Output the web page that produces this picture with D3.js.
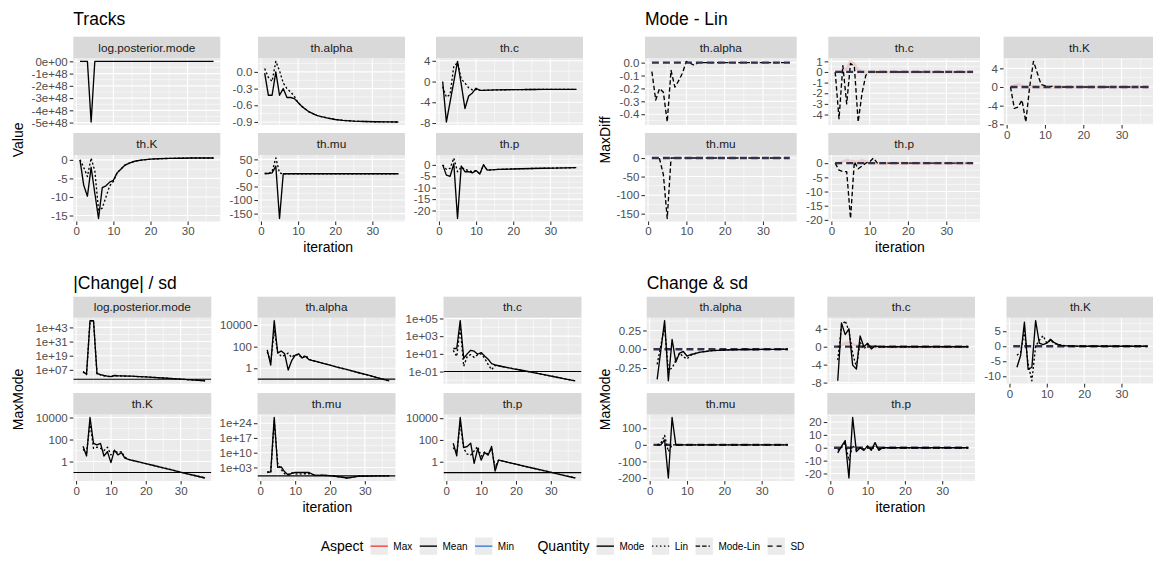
<!DOCTYPE html>
<html><head><meta charset="utf-8">
<script src="https://cdn.jsdelivr.net/npm/d3@7"></script>
<style>body{margin:0;background:#fff}svg{display:block;font-family:"Liberation Sans",Arial,Helvetica,sans-serif}</style>
</head><body><script>
// ================= DATA =================
const iterFull   = [1,2,3,4,5,6,7,8,9,10,11,12,13,14,15,16,18,20,22,25,28,31,34,37];
const iterChange = [2,3,4,5,6,7,8,9,10,11,12,13,14,15,16,18,20,22,25,28,31,34,37];
const xTickValues = [0,10,20,30];
const threshold = 0.1;

// ---- Tracks (Value) ----
const trackLogPost   = [0,0,0,-4.95e48,0,0,0,0,0,0,0,0,0,0,0,0,0,0,0,0,0,0,0,0];
const trackAlphaMode = [-0.02,-0.42,-0.42,0.0,-0.42,-0.3,-0.46,-0.46,-0.48,-0.55,-0.62,-0.67,-0.72,-0.75,-0.78,-0.8,-0.83,-0.855,-0.87,-0.885,-0.892,-0.896,-0.898,-0.9];
const trackAlphaLin  = [0.06,-0.1,-0.17,0.19,0.02,-0.2,-0.3,-0.36,-0.44,-0.55,-0.62,-0.67,-0.72,-0.75,-0.78,-0.8,-0.83,-0.855,-0.87,-0.885,-0.892,-0.896,-0.898,-0.9];
const trackCMode     = [0,-7.8,-3.9,0,3.9,-0.5,-5.2,-2.8,-2.2,-1.3,-1.7,-1.7,-1.65,-1.65,-1.6,-1.6,-1.58,-1.56,-1.55,-1.53,-1.52,-1.5,-1.5,-1.5];
const trackCLin      = [-1,-3,-2.5,3,3.6,0.5,-0.3,-1.2,-1.6,-1.5,-1.7,-1.7,-1.65,-1.65,-1.6,-1.6,-1.58,-1.56,-1.55,-1.53,-1.52,-1.5,-1.5,-1.5];
const trackKMode     = [0,-6.8,-9.8,-2,-9,-15.8,-7.5,-7,-6,-5.5,-3.5,-2.5,-1.5,-1,-0.6,-0.3,0,0.2,0.3,0.4,0.45,0.5,0.5,0.5];
const trackKLin      = [0,-2,-4.5,0.5,-3,-13.5,-13,-10,-7,-5.8,-3.5,-2.5,-1.5,-1,-0.6,-0.3,0,0.2,0.3,0.4,0.45,0.5,0.5,0.5];
const trackMuMode    = [-2,-2,0,25,-168,-3,-3,-3,-3,-3,-3,-3,-3,-3,-3,-3,-3,-3,-3,-3,-3,-3,-3,-3];
const trackMuLin     = [-2,-2,5,55,0,-3,-3,-3,-3,-3,-3,-3,-3,-3,-3,-3,-3,-3,-3,-3,-3,-3,-3,-3];
const trackPMode     = [0,-4.5,-5,0.5,-23.5,-0.5,-3,-3,-3.5,-2.5,-4,0,-2.3,-2.2,-2.1,-2,-1.9,-1.8,-1.7,-1.6,-1.5,-1.4,-1.3,-1.2];
const trackPLin      = [0,-2,-1.5,3,-3,-1,-2,-2.5,-3,-2.5,-4,0,-2.3,-2.2,-2.1,-2,-1.9,-1.8,-1.7,-1.6,-1.5,-1.4,-1.3,-1.2];

// ---- Mode - Lin (MaxDiff) ----
const mlAlpha = [-0.07,-0.29,-0.2,-0.23,-0.46,-0.06,-0.19,-0.14,-0.08,0.01,-0.005,-0.02,0,0,0,0,0,0,0,0,0,0,0,0];
const mlC     = [0,-4.4,0.6,-3,0.8,0.5,-4.7,-2,-0.3,0,0,0,0,0,0,0,0,0,0,0,0,0,0,0];
const mlCMax  = [0,0,0.1,0.3,1,0.7,0.2,0,0,0,0,0,0,0,0,0,0,0,0,0,0,0,0,0];
const mlK     = [0,-4.6,-4.3,-2.8,-7.5,0,5.5,3,0.5,0.3,0,0.2,0,0,0,0,0,0,0,0,0,0,0,0];
const mlKMax  = [0,0.3,0.5,0.2,0,0,0.2,0,0,0,0,0,0,0,0,0,0,0,0,0,0,0,0,0];
const mlMu    = [0,0,-2,-45,-163,0,0,0,0,0,0,0,0,0,0,0,0,0,0,0,0,0,0,0];
const mlP     = [0,-2.5,-3,-3,-19.5,0.5,-2,-1,0,0.5,1.8,0,0,0,0,0,0,0,0,0,0,0,0,0];
const mlPMax  = [0,0,0.5,1,0.8,0.5,0.3,1,0.5,0,0,0,0,0,0,0,0,0,0,0,0,0,0,0];
const sdZero  = [0,0,0,0,0,0,0,0,0,0,0,0,0,0,0,0,0,0,0,0,0,0,0,0];

// ---- |Change| / sd (MaxMode, log scale) ----
const cdLogPostMode = [2e5,2.5e3,5e48,5e48,8e3,1e3,160,40,16,160,100,80,63,50,40,20,10,4,1.26,0.32,0.08,0.02,0.005];
const cdLogPostLin  = [3e5,1e3,5e48,5e48,5e3,600,100,30,20,120,80,63,50,40,32,20,10,4,1.26,0.32,0.08,0.02,0.005];
const cdAlphaMode   = [50,2,2.5e4,25,40,22,0.7,5,16,22,9,12.6,6.3,5.2,4.3,2.9,1.95,1.3,0.74,0.41,0.23,0.126,0.07];
const cdAlphaLin    = [32,4,3.2e3,32,12.6,16,25,10,20,16,10,16,7,5.2,4.3,2.9,1.95,1.3,0.74,0.41,0.23,0.126,0.07];
const cdCMode       = [40,40,5.6e4,3.2,10,25,20,9,14,5.6,2.5,0.8,0.56,0.45,0.37,0.26,0.18,0.13,0.076,0.045,0.026,0.015,0.009];
const cdCLin        = [25,5,1e4,0.4,5,8,4,8,10,3.2,0.63,0.16,0.5,0.45,0.37,0.26,0.18,0.13,0.076,0.045,0.026,0.015,0.009];
const cdKMode       = [25,3.2,1e4,45,32,45,3.2,8,0.8,11,4,6.3,2,1.6,1.3,0.93,0.65,0.46,0.27,0.16,0.09,0.054,0.032];
const cdKLin        = [12.6,6.3,3.2e3,16,20,16,10,20,4,10,6.3,8,2.5,1.6,1.3,0.93,0.65,0.46,0.27,0.16,0.09,0.054,0.032];
const cdMuMode      = [4,8,5e26,1e3,2e3,8,0.25,1.6,4,4,4,4,4,0.5,0.16,0.2,0.126,0.05,0.01,0.063,0.08,0.1,0.1];
const cdMuLin       = [10,3.2,1e25,1e5,100,1,0.5,3.2,1,0.5,1,1,1,0.5,0.16,0.2,0.126,0.05,0.01,0.063,0.08,0.1,0.1];
const cdPMode       = [50,3.5,1.15e4,20,25,50,0.7,16,1.4,7,4,25,0.14,1.4,1.2,0.84,0.6,0.42,0.25,0.15,0.09,0.053,0.032];
const cdPLin        = [20,6.3,3.2e3,16,5,4,10,25,3.2,8,5,16,0.32,1.4,1.2,0.84,0.6,0.42,0.25,0.15,0.09,0.053,0.032];

// ---- Change & sd (MaxMode) ----
const csAlphaMode = [-0.4,-0.01,0.38,-0.42,0.13,-0.17,-0.05,-0.03,-0.09,-0.07,-0.06,-0.045,-0.035,-0.03,-0.022,-0.015,-0.01,-0.007,-0.004,-0.003,-0.002,-0.001,0];
const csAlphaLin  = [-0.2,0.05,0.3,-0.28,-0.25,-0.15,-0.05,-0.1,-0.13,-0.08,-0.06,-0.045,-0.035,-0.03,-0.022,-0.015,-0.01,-0.007,-0.004,-0.003,-0.002,-0.001,0];
const csCMode     = [-7.6,5.3,2.7,4,-4.1,-5,2.4,0,0.8,-0.5,0.2,0,0,0,0,0,0,0,0,0,0,0,0];
const csCLin      = [-3,4.5,5.8,3.5,-1.5,-4.5,1,-0.5,0.5,0,0,0,0,0,0,0,0,0,0,0,0,0,0];
const csCMax      = [0,0.3,0.8,0.9,0.6,0.2,0,0,0,0,0,0,0,0,0,0,0,0,0,0,0,0,0];
const csKMode     = [-7,-3,8,-7.7,-7,8.5,1,0.5,1,2.3,1.2,0.6,0.3,0.15,0.1,0.05,0,0,0,0,0,0,0];
const csKLin      = [-3,-2,5,-6,-11.5,0,2,3.5,1,2,1,0.5,0.3,0.15,0.1,0.05,0,0,0,0,0,0,0];
const csMuMode    = [0,0,30,-200,165,0,0,0,0,0,0,0,0,0,0,0,0,0,0,0,0,0,0];
const csMuLin     = [0,10,57,-40,0,0,0,0,0,0,0,0,0,0,0,0,0,0,0,0,0,0,0];
const csPMode     = [-4,1,5.5,-23.5,23.5,-3,0,-2,1.5,-2,4,-2,0,0,0,0,0,0,0,0,0,0,0];
const csPLin      = [-2,0,4,-10,2,-2,0,-1,1,-1,2,-1,0,0,0,0,0,0,0,0,0,0,0];

// ---- tick labels ----
const ticksTrackLogPost = [0,-1e48,-2e48,-3e48,-4e48,-5e48];
const labelsTrackLogPost = ["0e+00","-1e+48","-2e+48","-3e+48","-4e+48","-5e+48"];
const ticksTrackAlpha = [0,-0.3,-0.6,-0.9], labelsTrackAlpha = ["0.0","-0.3","-0.6","-0.9"];
const ticksTrackC = [4,0,-4,-8], labelsTrackC = ["4","0","-4","-8"];
const ticksTrackK = [0,-5,-10,-15], labelsTrackK = ["0","-5","-10","-15"];
const ticksTrackMu = [50,0,-50,-100,-150], labelsTrackMu = ["50","0","-50","-100","-150"];
const ticksTrackP = [0,-5,-10,-15,-20], labelsTrackP = ["0","-5","-10","-15","-20"];
const ticksMlAlpha = [0,-0.1,-0.2,-0.3,-0.4], labelsMlAlpha = ["0.0","-0.1","-0.2","-0.3","-0.4"];
const ticksMlC = [1,0,-1,-2,-3,-4], labelsMlC = ["1","0","-1","-2","-3","-4"];
const ticksMlK = [4,0,-4,-8], labelsMlK = ["4","0","-4","-8"];
const ticksMlMu = [0,-50,-100,-150], labelsMlMu = ["0","-50","-100","-150"];
const ticksMlP = [0,-5,-10,-15,-20], labelsMlP = ["0","-5","-10","-15","-20"];
const ticksCdLogPost = [1e7,1e19,1e31,1e43], labelsCdLogPost = ["1e+07","1e+19","1e+31","1e+43"];
const ticksCdAlpha = [1,100,10000], labelsCdAlpha = ["1","100","10000"];
const ticksCdC = [0.1,10,1000,1e5], labelsCdC = ["1e-01","1e+01","1e+03","1e+05"];
const ticksCdK = [1,100,10000], labelsCdK = ["1","100","10000"];
const ticksCdMu = [1e3,1e10,1e17,1e24], labelsCdMu = ["1e+03","1e+10","1e+17","1e+24"];
const ticksCdP = [1,100,10000], labelsCdP = ["1","100","10000"];
const ticksCsAlpha = [0.25,0,-0.25], labelsCsAlpha = ["0.25","0.00","-0.25"];
const ticksCsC = [4,0,-4,-8], labelsCsC = ["4","0","-4","-8"];
const ticksCsK = [5,0,-5,-10], labelsCsK = ["5","0","-5","-10"];
const ticksCsMu = [100,0,-100,-200], labelsCsMu = ["100","0","-100","-200"];
const ticksCsP = [20,10,0,-10,-20], labelsCsP = ["20","10","0","-10","-20"];

const aspectLevels = ["Max","Mean","Min"];
const aspectColors = ["#F0443A","#000000","#3C7DD9"];
const quantityLevels = ["Mode","Lin","Mode-Lin","SD"];

// ================= LAYOUT / STYLE =================
const W = 1153, H = 563;
const svg = d3.select("body").append("svg").attr("width", W).attr("height", H);
svg.append("rect").attr("width", W).attr("height", H).attr("fill", "#fff");
const defs = svg.append("defs");

const TICK_FS = 11.5, STRIP_FS = 11.8;
const styles = {
  mode:    {stroke:"#000", width:1.35, dash:null},
  lin:     {stroke:"#000", width:1.35, dash:"2,2.2"},
  modelin: {stroke:"#000", width:1.35, dash:"4.5,2.6"},
  sd:      {stroke:"#32324c", width:2.3, dash:"7,4"},
  faint:   {stroke:"#F0443A", width:3, dash:null}
};

const rowsTop = [[36.7,58.3,125],[133,155,221.5]];
const rowsBot = [[296.7,317.7,383.8],[393,414.5,481]];
const colsTracks = [[73.3,220.3],[258,405],[436,583]];
const colsML = [[645,796.7],[828.3,980],[1003.6,1155.3]];
const colsCD = [[73.3,211.3],[257.5,395.5],[443.5,581.5]];
const colsCS = [[646.7,794.5],[827.3,975],[1006.5,1154.3]];

let clipId = 0;
function drawPanel(spec) {
  const [x0,x1] = spec.col, [sTop,pTop,pBot] = spec.row;
  const g = svg.append("g");
  const x = d3.scaleLinear().domain([1-1.8, 37+1.8]).range([x0,x1]);
  let all = [];
  spec.series.forEach(s => all = all.concat(s.y));
  if (spec.hline != null) all.push(spec.hline);
  let y, tf, inv;
  if (spec.log) {
    const l = all.map(v => Math.log10(v));
    const lo = d3.min(l), hi = d3.max(l), r = hi-lo;
    y = d3.scaleLog().domain([10**(lo-0.05*r), 10**(hi+0.05*r)]).range([pBot,pTop]);
    tf = v => Math.log10(v); inv = t => 10**t;
  } else {
    const lo = d3.min(all), hi = d3.max(all), r = (hi-lo)||1;
    y = d3.scaleLinear().domain([lo-0.05*r, hi+0.05*r]).range([pBot,pTop]);
    tf = v => v; inv = t => t;
  }
  g.append("rect").attr("x",x0).attr("y",pTop).attr("width",x1-x0).attr("height",pBot-pTop).attr("fill","#ebebeb");
  const dom = y.domain().map(tf).sort((a,b)=>a-b);
  const maj = spec.ticks.map(tf).sort((a,b)=>a-b);
  const step = maj[1]-maj[0];
  const minY = [];
  for (let t = maj[0]-step/2; t <= dom[1]; t += step) if (t >= dom[0]) minY.push(inv(t));
  const minX = [-5,5,15,25,35].filter(v => v >= x.domain()[0] && v <= x.domain()[1]);
  const grid = g.append("g").attr("stroke","#fff");
  minY.forEach(v => grid.append("line").attr("x1",x0).attr("x2",x1).attr("y1",y(v)).attr("y2",y(v)).attr("stroke-width",0.55));
  minX.forEach(v => grid.append("line").attr("y1",pTop).attr("y2",pBot).attr("x1",x(v)).attr("x2",x(v)).attr("stroke-width",0.55));
  spec.ticks.forEach(v => grid.append("line").attr("x1",x0).attr("x2",x1).attr("y1",y(v)).attr("y2",y(v)).attr("stroke-width",1.1));
  xTickValues.forEach(v => grid.append("line").attr("y1",pTop).attr("y2",pBot).attr("x1",x(v)).attr("x2",x(v)).attr("stroke-width",1.1));
  const id = "clip"+(clipId++);
  defs.append("clipPath").attr("id",id).append("rect").attr("x",x0).attr("y",pTop).attr("width",x1-x0).attr("height",pBot-pTop);
  const plot = g.append("g").attr("clip-path",`url(#${id})`);
  if (spec.hline != null)
    plot.append("line").attr("x1",x0).attr("x2",x1).attr("y1",y(spec.hline)).attr("y2",y(spec.hline)).attr("stroke","#000").attr("stroke-width",1.1);
  spec.series.forEach(s => {
    const st = styles[s.style];
    const pts = s.x.map((xi,i) => [xi, s.y[i]]);
    const line = d3.line().x(d => x(d[0])).y(d => y(d[1]));
    plot.append("path").attr("d", line(pts)).attr("fill","none")
      .attr("stroke", st.stroke).attr("stroke-width", st.width)
      .attr("stroke-dasharray", st.dash).attr("stroke-linejoin","round")
      .attr("stroke-opacity", s.style === "faint" ? 0.18 : 1);
  });
  g.append("rect").attr("x",x0).attr("y",sTop).attr("width",x1-x0).attr("height",pTop-sTop).attr("fill","#d9d9d9");
  g.append("text").attr("x",(x0+x1)/2).attr("y",(sTop+pTop)/2).attr("dy","0.36em").attr("text-anchor","middle")
    .attr("font-size",STRIP_FS).attr("fill","#1a1a1a").text(spec.name);
  const ya = d3.axisLeft(y).tickValues(spec.ticks).tickFormat((d,i)=>spec.labels[i]).tickSize(3.6).tickPadding(2);
  const yg = g.append("g").attr("transform",`translate(${x0},0)`).call(ya);
  yg.select(".domain").remove();
  yg.selectAll("line").attr("stroke","#333").attr("stroke-width",1.07);
  yg.selectAll("text").attr("fill","#4d4d4d").attr("font-size",TICK_FS).attr("font-family",null);
  if (spec.xAxis) {
    const xa = d3.axisBottom(x).tickValues(xTickValues).tickFormat(d3.format("d")).tickSize(3.6).tickPadding(2);
    const xg = g.append("g").attr("transform",`translate(0,${pBot})`).call(xa);
    xg.select(".domain").remove();
    xg.selectAll("line").attr("stroke","#333").attr("stroke-width",1.07);
    xg.selectAll("text").attr("fill","#4d4d4d").attr("font-size",TICK_FS).attr("font-family",null);
  }
}

const S = (x, y, style) => ({x, y, style});

// ---- Tracks ----
drawPanel({name:"log.posterior.mode", col:colsTracks[0], row:rowsTop[0], ticks:ticksTrackLogPost, labels:labelsTrackLogPost,
  series:[S(iterFull,trackLogPost,"mode")]});
drawPanel({name:"th.alpha", col:colsTracks[1], row:rowsTop[0], ticks:ticksTrackAlpha, labels:labelsTrackAlpha,
  series:[S(iterFull,trackAlphaLin,"lin"),S(iterFull,trackAlphaMode,"mode")]});
drawPanel({name:"th.c", col:colsTracks[2], row:rowsTop[0], ticks:ticksTrackC, labels:labelsTrackC,
  series:[S(iterFull,trackCLin,"lin"),S(iterFull,trackCMode,"mode")]});
drawPanel({name:"th.K", col:colsTracks[0], row:rowsTop[1], ticks:ticksTrackK, labels:labelsTrackK, xAxis:true,
  series:[S(iterFull,trackKLin,"lin"),S(iterFull,trackKMode,"mode")]});
drawPanel({name:"th.mu", col:colsTracks[1], row:rowsTop[1], ticks:ticksTrackMu, labels:labelsTrackMu, xAxis:true,
  series:[S(iterFull,trackMuLin,"lin"),S(iterFull,trackMuMode,"mode")]});
drawPanel({name:"th.p", col:colsTracks[2], row:rowsTop[1], ticks:ticksTrackP, labels:labelsTrackP, xAxis:true,
  series:[S(iterFull,trackPLin,"lin"),S(iterFull,trackPMode,"mode")]});

// ---- Mode - Lin ----
drawPanel({name:"th.alpha", col:colsML[0], row:rowsTop[0], ticks:ticksMlAlpha, labels:labelsMlAlpha,
  series:[S(iterFull,mlAlpha,"modelin"),S(iterFull,sdZero,"sd")]});
drawPanel({name:"th.c", col:colsML[1], row:rowsTop[0], ticks:ticksMlC, labels:labelsMlC,
  series:[S(iterFull,mlCMax,"faint"),S(iterFull,mlC,"modelin"),S(iterFull,sdZero,"sd")]});
drawPanel({name:"th.K", col:colsML[2], row:rowsTop[0], ticks:ticksMlK, labels:labelsMlK, xAxis:true,
  series:[S(iterFull,mlKMax,"faint"),S(iterFull,mlK,"modelin"),S(iterFull,sdZero,"sd")]});
drawPanel({name:"th.mu", col:colsML[0], row:rowsTop[1], ticks:ticksMlMu, labels:labelsMlMu, xAxis:true,
  series:[S(iterFull,mlMu,"modelin"),S(iterFull,sdZero,"sd")]});
drawPanel({name:"th.p", col:colsML[1], row:rowsTop[1], ticks:ticksMlP, labels:labelsMlP, xAxis:true,
  series:[S(iterFull,mlPMax,"faint"),S(iterFull,mlP,"modelin"),S(iterFull,sdZero,"sd")]});

// ---- |Change| / sd ----
drawPanel({name:"log.posterior.mode", col:colsCD[0], row:rowsBot[0], log:true, ticks:ticksCdLogPost, labels:labelsCdLogPost, hline:threshold,
  series:[S(iterChange,cdLogPostLin,"lin"),S(iterChange,cdLogPostMode,"mode")]});
drawPanel({name:"th.alpha", col:colsCD[1], row:rowsBot[0], log:true, ticks:ticksCdAlpha, labels:labelsCdAlpha, hline:threshold,
  series:[S(iterChange,cdAlphaLin,"lin"),S(iterChange,cdAlphaMode,"mode")]});
drawPanel({name:"th.c", col:colsCD[2], row:rowsBot[0], log:true, ticks:ticksCdC, labels:labelsCdC, hline:threshold,
  series:[S(iterChange,cdCLin,"lin"),S(iterChange,cdCMode,"mode")]});
drawPanel({name:"th.K", col:colsCD[0], row:rowsBot[1], log:true, ticks:ticksCdK, labels:labelsCdK, hline:threshold, xAxis:true,
  series:[S(iterChange,cdKLin,"lin"),S(iterChange,cdKMode,"mode")]});
drawPanel({name:"th.mu", col:colsCD[1], row:rowsBot[1], log:true, ticks:ticksCdMu, labels:labelsCdMu, hline:threshold, xAxis:true,
  series:[S(iterChange,cdMuLin,"lin"),S(iterChange,cdMuMode,"mode")]});
drawPanel({name:"th.p", col:colsCD[2], row:rowsBot[1], log:true, ticks:ticksCdP, labels:labelsCdP, hline:threshold, xAxis:true,
  series:[S(iterChange,cdPLin,"lin"),S(iterChange,cdPMode,"mode")]});

// ---- Change & sd ----
drawPanel({name:"th.alpha", col:colsCS[0], row:rowsBot[0], ticks:ticksCsAlpha, labels:labelsCsAlpha,
  series:[S(iterFull,sdZero,"sd"),S(iterChange,csAlphaLin,"lin"),S(iterChange,csAlphaMode,"mode")]});
drawPanel({name:"th.c", col:colsCS[1], row:rowsBot[0], ticks:ticksCsC, labels:labelsCsC,
  series:[S(iterChange,csCMax,"faint"),S(iterFull,sdZero,"sd"),S(iterChange,csCLin,"lin"),S(iterChange,csCMode,"mode")]});
drawPanel({name:"th.K", col:colsCS[2], row:rowsBot[0], ticks:ticksCsK, labels:labelsCsK, xAxis:true,
  series:[S(iterFull,sdZero,"sd"),S(iterChange,csKLin,"lin"),S(iterChange,csKMode,"mode")]});
drawPanel({name:"th.mu", col:colsCS[0], row:rowsBot[1], ticks:ticksCsMu, labels:labelsCsMu, xAxis:true,
  series:[S(iterFull,sdZero,"sd"),S(iterChange,csMuLin,"lin"),S(iterChange,csMuMode,"mode")]});
drawPanel({name:"th.p", col:colsCS[1], row:rowsBot[1], ticks:ticksCsP, labels:labelsCsP, xAxis:true,
  series:[S(iterFull,sdZero,"sd"),S(iterChange,csPLin,"lin"),S(iterChange,csPMode,"mode")]});

// ---- titles ----
const titles = [["Tracks",73.3,25],["Mode - Lin",645,25],["|Change| / sd",73.3,289],["Change & sd",646.7,289]];
titles.forEach(t => svg.append("text").attr("x",t[1]).attr("y",t[2]).attr("font-size",17.5).attr("fill","#000").text(t[0]));
const yTitles = [["Value",17.5,139.9],["MaxDiff",604.5,139.9],["MaxMode",17.5,399.4],["MaxMode",604.5,399.4]];
yTitles.forEach(t => svg.append("text").attr("transform",`translate(${t[1]},${t[2]}) rotate(-90)`).attr("dy","0.36em")
  .attr("text-anchor","middle").attr("font-size",14).attr("fill","#000").text(t[0]));
const xTitles = [[328.2,252],[900,252],[327.4,512],[900.5,512]];
xTitles.forEach(t => svg.append("text").attr("x",t[0]).attr("y",t[1]).attr("text-anchor","middle").attr("font-size",14).attr("fill","#000").text("iteration"));

// ---- legend ----
const leg = svg.append("g");
let cx = 0;
const keyY = 537.5, keyS = 17.3, midY = keyY + keyS/2;
function legTitle(txt){ const t = leg.append("text").attr("x",cx).attr("y",midY).attr("dy","0.36em").attr("font-size",14).attr("fill","#000").text(txt); cx += t.node().getComputedTextLength() + 7; }
function legItem(lbl, color, st){
  leg.append("rect").attr("x",cx).attr("y",keyY).attr("width",keyS).attr("height",keyS).attr("fill","#ebebeb");
  leg.append("line").attr("x1",cx).attr("x2",cx+keyS).attr("y1",midY).attr("y2",midY).attr("stroke",color)
    .attr("stroke-width",1.4).attr("stroke-dasharray",st);
  cx += keyS + 5.5;
  const t = leg.append("text").attr("x",cx).attr("y",midY).attr("dy","0.36em").attr("font-size",10).attr("fill","#000").text(lbl);
  cx += t.node().getComputedTextLength() + 7.5;
}
legTitle("Aspect");
aspectLevels.forEach((a,i) => legItem(a, aspectColors[i], null));
cx += 16;
legTitle("Quantity");
const qDash = [null,"1.5,2.5","4.5,2,4.5,2,1.3,3","5,4"];
quantityLevels.forEach((q,i) => legItem(q, "#000", qDash[i]));
const totalW = cx - 7.5;
leg.attr("transform",`translate(${(318+807)/2 - totalW/2},0)`);
</script></body></html>
